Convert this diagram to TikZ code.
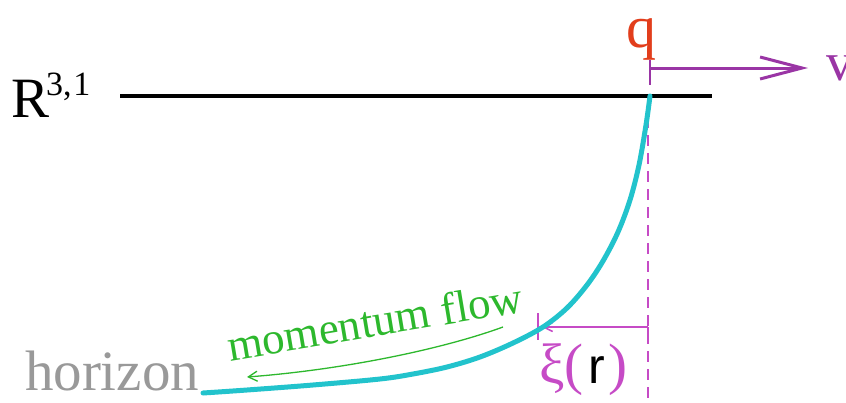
\documentclass[tikz,border=0pt]{standalone}
\usepackage{fontspec}
\setmainfont{Liberation Serif}
\newfontfamily\sansr{Liberation Sans}
\usetikzlibrary{arrows.meta}
\definecolor{curvecol}{HTML}{22C3CC}
\definecolor{velcol}{HTML}{9A35A5}
\definecolor{xicol}{HTML}{C64BC6}
\definecolor{qcol}{HTML}{E23E1C}
\definecolor{flowcol}{HTML}{2DB82D}
\definecolor{horcol}{HTML}{999999}
\tikzset{
  lbl/.style={anchor=base west, inner sep=0pt, outer sep=0pt},
  bigtxt/.style={font=\fontsize{57}{60}\selectfont},
}
\begin{document}
\begin{tikzpicture}[x=1pt,y=-1pt]
\useasboundingbox[fill=white] (0,0) rectangle (846,402);
% coordinates
\coordinate (lineL) at (120,96);
\coordinate (lineR) at (712,96);
\coordinate (vtop) at (650,60);
\coordinate (vbot) at (650,85);
\coordinate (arrS) at (650,68);
\coordinate (arrE) at (808,68);
\coordinate (dashT) at (648,99);
\coordinate (dashB) at (648,402);
\coordinate (xiR) at (648,327);
\coordinate (xiL) at (542,327);
\coordinate (tickT) at (538,313);
\coordinate (tickB) at (538,340);
\coordinate (flowS) at (503,327);
\coordinate (flowE) at (247,377);
% labels
\node[lbl, bigtxt] (R) at (12,117) {R};
\node[lbl, font=\fontsize{34}{40}\selectfont] (sup) at (46,95) {3,\kern2pt1};
\node[lbl, font=\fontsize{60}{62}\selectfont, text=qcol] (q) at (626,47) {q};
\node[lbl, font=\fontsize{54}{60}\selectfont, text=velcol] (v) at (826,80) {v};
\node[lbl, bigtxt, text=horcol] (hor) at (25,390) {horizon};
\node[lbl, font=\fontsize{45}{48}\selectfont, text=flowcol, rotate=9.5] (flow) at (230,361) {momentum flow};
\node[lbl, bigtxt, text=xicol] (xi) at (539,383) {ξ(};
\node[lbl, font=\fontsize{50}{52}\selectfont\sansr] (r) at (588,383) {r};
\node[lbl, bigtxt, text=xicol] (rp) at (608,383) {)};
% black spacetime line
\draw[line width=4pt] (lineL) -- (lineR);
% velocity
\draw[velcol, line width=2pt] (vtop) -- (vbot);
\draw[velcol, line width=3pt, -{Straight Barb[length=42pt,width=22pt]}] (arrS) -- (arrE);
% dashed vertical
\draw[xicol, line width=1.5pt, dash pattern=on 11pt off 7pt] (dashT) -- (dashB);
% xi measurement
\draw[xicol, line width=1.5pt, -{Straight Barb[length=9pt,width=9pt]}] (xiR) -- (xiL);
\draw[xicol, line width=1.5pt] (xiR) -- ++(0,6);
\draw[xicol, line width=1.5pt] (tickT) -- (tickB);
% curve
\draw[curvecol, line width=5pt, line cap=round] plot[smooth, tension=0.55] coordinates {
 (650,96) (646,125) (639,165) (630,200) (618,232) (603,261) (587,285) (567,308)
 (543,327) (513,343) (480,357) (447,367) (413,374) (380,379) (313,385) (247,390) (203,393)};
% momentum flow arrow
\draw[flowcol, line width=1.3pt, -{Straight Barb[length=9pt,width=10pt]}] (flowS) .. controls (440,350) and (340,370) .. (flowE);
\end{tikzpicture}
\end{document}
